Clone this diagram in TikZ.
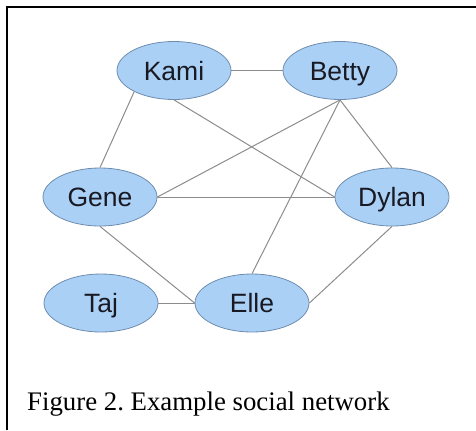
\documentclass[tikz,border=0pt]{standalone}
\usepackage{fontspec}
\setmainfont{Liberation Serif}
\newfontfamily\nodefont{Liberation Sans}
\usetikzlibrary{shapes.geometric}
\definecolor{nodefill}{RGB}{170,209,245}
\definecolor{nodeborder}{RGB}{110,140,175}
\definecolor{edgegray}{RGB}{140,140,140}
\definecolor{nodetext}{RGB}{25,25,35}
\frenchspacing
\begin{document}
\begin{tikzpicture}[x=1bp,y=-1bp,
  person/.style={ellipse, draw=nodeborder, fill=nodefill, line width=0.8bp,
    minimum width=114bp, minimum height=58bp, inner sep=0pt,
    text height=25bp, text depth=6bp,
    font=\nodefont\fontsize{26.5bp}{30bp}\selectfont, text=nodetext},
  tie/.style={draw=edgegray, line width=1bp},
  frame/.style={draw=black, line width=2bp}]
\useasboundingbox (0,0) rectangle (476,430);
\coordinate (ftop) at (476,7);
\coordinate (fcorner) at (7,7);
\coordinate (fbottom) at (7,430);
\draw[frame] (ftop) -- (fcorner) -- (fbottom);

\node[person] (kami)  at (174,70.5)  {Kami};
\node[person] (betty) at (340,70.5)  {Betty};
\node[person] (gene)  at (100,197) {Gene};
\node[person] (dylan) at (392,197) {Dylan};
\node[person] (taj)   at (101,303) {Taj};
\node[person] (elle)  at (252,303) {Elle};

\draw[tie] (kami.east) -- (betty.west);
\draw[tie] (kami.208) -- (gene.north);
\draw[tie] (kami.south) -- (dylan.west);
\draw[tie] (betty.south) -- (gene.east);
\draw[tie] (betty.south) -- (elle.north);
\draw[tie] (betty.south) -- (dylan.north);
\draw[tie] (gene.east) -- (dylan.west);
\draw[tie] (gene.south) -- (elle.west);
\draw[tie] (taj.east) -- (elle.west);
\draw[tie] (dylan.south) -- (elle.east);

\node[anchor=base west, inner sep=0pt, font=\fontsize{26.8bp}{32bp}\selectfont] (caption) at (27,410) {Figure 2. Example social network};
\end{tikzpicture}
\end{document}
